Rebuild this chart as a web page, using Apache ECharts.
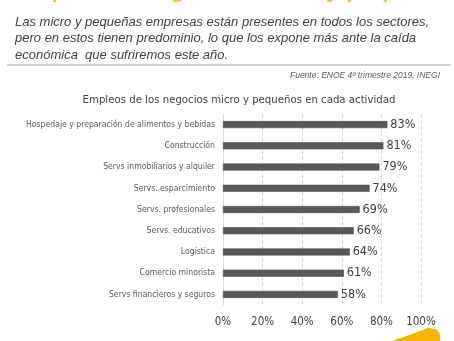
<!DOCTYPE html>
<html><head><meta charset="utf-8">
<script src="https://cdn.jsdelivr.net/npm/echarts@6/dist/echarts.min.js"></script>
<style>html,body{margin:0;padding:0;background:#fff;}#c{width:454px;height:341px;}</style>
</head><body><div id="c"></div>
<script>
const categories = ["Hospedaje y preparación de alimentos y bebidas","Construcción","Servs inmobiliarios y alquiler","Servs. esparcimiento","Servs. profesionales","Servs. educativos","Logística","Comercio minorista","Servs financieros y seguros"];
const values = [83,81,79,74,69,66,64,61,58];
const xTicks = [0,20,40,60,80,100];

const chart = echarts.init(document.getElementById('c'));
chart.setOption({
  animation:false,
  backgroundColor:'#fff',
  title:{text:'Empleos de los negocios micro y pequeños en cada actividad',left:234,top:90,textAlign:'center',
    textStyle:{fontFamily:'DejaVu Sans Condensed',fontSize:11.3,fontWeight:'normal',color:'#404040'}},
  graphic:[
    {type:'text',left:14,top:-22,style:{text:'Empleo en negocios micro y pequeños',font:'bold 24px "Liberation Sans"',fill:'#F7C12E'}},
    {type:'text',left:15,top:14,style:{text:'Las micro y pequeñas empresas están presentes en todos los sectores,\npero en estos tienen predominio, lo que los expone más ante la caída\neconómica  que sufriremos este año.',font:'italic 13px "Liberation Sans"',fill:'#404040',lineHeight:16.5}},
    {type:'line',shape:{x1:7,y1:65,x2:451,y2:65},style:{stroke:'#bfbfbf',lineWidth:1.5}},
    {type:'text',right:14,top:71,style:{text:'Fuente: ENOE 4º trimestre 2019, INEGI',font:'italic 8.5px "Liberation Sans"',fill:'#595959'}},
    {type:'polygon',shape:{points:[[392,341],[412,334],[428,328],[436,329],[440,334],[440,341]]},style:{fill:'#F5B400'}}
  ],
  grid:{left:223,right:33,top:114,bottom:36,containLabel:false,outerBoundsMode:'none'},
  xAxis:{type:'value',min:0,max:100,interval:20,
    axisLabel:{formatter:v=>v+'%',fontFamily:'DejaVu Sans Condensed',fontSize:11.5,color:'#404040',margin:11},
    splitLine:{show:true,lineStyle:{type:'dashed',color:'#d9d9d9'}},
    axisLine:{show:false},axisTick:{show:false}},
  yAxis:{type:'category',data:categories,inverse:true,
    axisLabel:{fontFamily:'DejaVu Sans Condensed',fontSize:8.6,color:'#595959',margin:8},
    axisLine:{show:true,lineStyle:{color:'#d9d9d9'}},axisTick:{show:false}},
  series:[{type:'bar',data:values,barWidth:7,
    itemStyle:{color:'#595959',borderColor:'#404040',borderWidth:0.5},
    label:{show:true,position:'right',formatter:p=>p.value+'%',fontFamily:'DejaVu Sans Condensed',fontSize:12.5,color:'#404040',distance:3}}]
});
</script></body></html>
